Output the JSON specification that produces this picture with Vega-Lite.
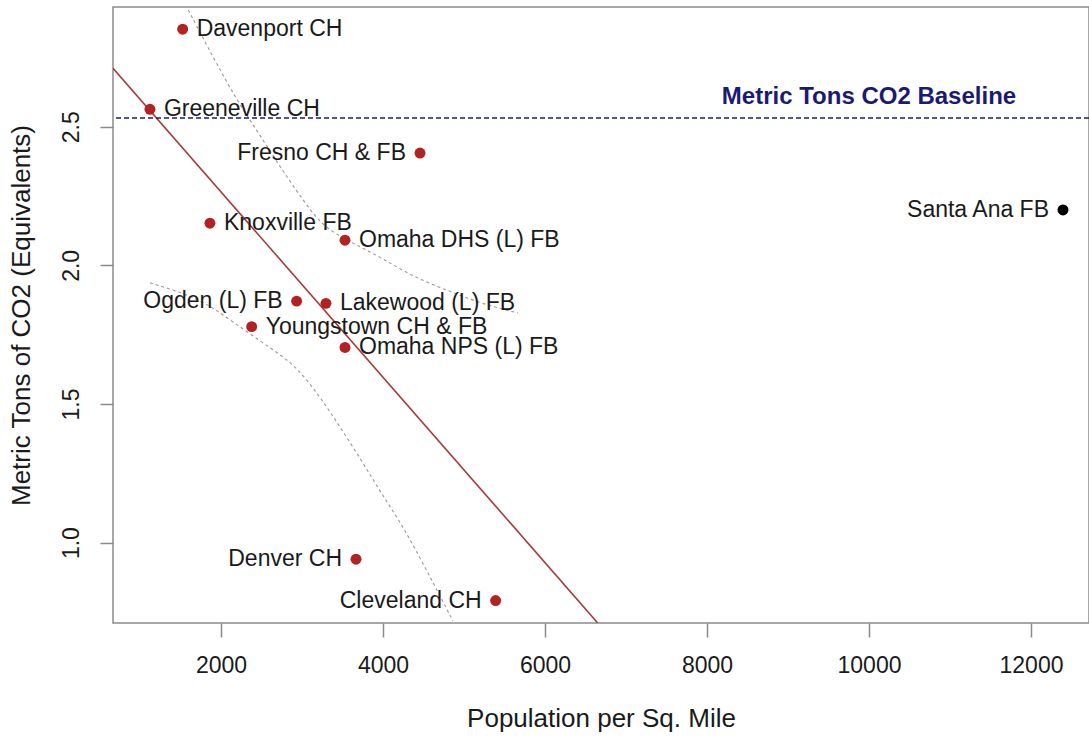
{
  "$schema": "https://vega.github.io/schema/vega-lite/v6.json",
  "width": 976,
  "height": 616,
  "autosize": {"type": "none"},
  "padding": {"left": 113, "top": 7, "right": 0, "bottom": 115},
  "background": "white",
  "config": {
    "view": {"stroke": "#8a8a8a", "strokeWidth": 1.5},
    "font": "Liberation Sans",
    "axis": {"grid": false, "domain": false, "tickColor": "#8a8a8a", "tickWidth": 1.5, "labelFont": "Liberation Sans", "titleFont": "Liberation Sans", "labelColor": "#1a1a1a", "titleColor": "#1a1a1a", "titleFontWeight": "normal"}
  },
  "datasets": {
    "points": [
      {"name": "Davenport CH", "pop": 1527, "co2": 2.852, "fit": "yes"},
      {"name": "Greeneville CH", "pop": 1123, "co2": 2.563, "fit": "yes"},
      {"name": "Fresno CH & FB", "pop": 4457, "co2": 2.405, "fit": "yes"},
      {"name": "Knoxville FB", "pop": 1864, "co2": 2.152, "fit": "yes"},
      {"name": "Omaha DHS (L) FB", "pop": 3531, "co2": 2.091, "fit": "yes"},
      {"name": "Ogden (L) FB", "pop": 2934, "co2": 1.871, "fit": "yes"},
      {"name": "Lakewood (L) FB", "pop": 3296, "co2": 1.863, "fit": "yes"},
      {"name": "Youngstown CH & FB", "pop": 2379, "co2": 1.779, "fit": "yes"},
      {"name": "Omaha NPS (L) FB", "pop": 3531, "co2": 1.704, "fit": "yes"},
      {"name": "Denver CH", "pop": 3667, "co2": 0.94, "fit": "yes"},
      {"name": "Cleveland CH", "pop": 5391, "co2": 0.791, "fit": "yes"},
      {"name": "Santa Ana FB", "pop": 12395, "co2": 2.2, "fit": "no"}
    ],
    "fitline": [
      {"pop": 667, "co2": 2.711},
      {"pop": 6651, "co2": 0.71}
    ],
    "baseline": [
      {"label": "Metric Tons CO2 Baseline", "co2": 2.532, "labelPop": 10000, "labelCo2": 2.607}
    ],
    "bands": [
      {"band": "upper", "pop": 1596, "co2": 2.921},
      {"band": "upper", "pop": 1901, "co2": 2.752},
      {"band": "upper", "pop": 2194, "co2": 2.596},
      {"band": "upper", "pop": 2441, "co2": 2.488},
      {"band": "upper", "pop": 2728, "co2": 2.356},
      {"band": "upper", "pop": 3012, "co2": 2.236},
      {"band": "upper", "pop": 3259, "co2": 2.139},
      {"band": "upper", "pop": 3593, "co2": 2.085},
      {"band": "upper", "pop": 3963, "co2": 2.031},
      {"band": "upper", "pop": 4370, "co2": 1.959},
      {"band": "upper", "pop": 4786, "co2": 1.911},
      {"band": "upper", "pop": 5198, "co2": 1.863},
      {"band": "upper", "pop": 5667, "co2": 1.828},
      {"band": "lower", "pop": 1123, "co2": 1.937},
      {"band": "lower", "pop": 1741, "co2": 1.881},
      {"band": "lower", "pop": 2111, "co2": 1.803},
      {"band": "lower", "pop": 2646, "co2": 1.695},
      {"band": "lower", "pop": 2934, "co2": 1.635},
      {"band": "lower", "pop": 3222, "co2": 1.526},
      {"band": "lower", "pop": 3469, "co2": 1.418},
      {"band": "lower", "pop": 3757, "co2": 1.286},
      {"band": "lower", "pop": 4004, "co2": 1.166},
      {"band": "lower", "pop": 4251, "co2": 1.058},
      {"band": "lower", "pop": 4617, "co2": 0.857},
      {"band": "lower", "pop": 4864, "co2": 0.717}
    ]
  },
  "layer": [
    {
      "data": {"name": "bands"},
      "mark": {"type": "line", "color": "#a09494", "strokeWidth": 1.1, "strokeDash": [3, 3], "clip": true, "interpolate": "basis"},
      "encoding": {
        "x": {"field": "pop", "type": "quantitative", "scale": {"domain": [667, 12716], "nice": false, "zero": false},
          "axis": {"values": [2000, 4000, 6000, 8000, 10000, 12000], "format": "d", "title": "Population per Sq. Mile", "labelFontSize": 23, "titleFontSize": 26, "tickSize": 14, "labelPadding": 17, "titlePadding": 28}},
        "y": {"field": "co2", "type": "quantitative", "scale": {"domain": [0.71, 2.932], "nice": false, "zero": false},
          "axis": {"values": [1.0, 1.5, 2.0, 2.5], "format": ".1f", "title": "Metric Tons of CO2 (Equivalents)", "labelFontSize": 23, "titleFontSize": 26, "tickSize": 13, "labelAngle": -90, "labelAlign": "center", "labelBaseline": "bottom", "labelPadding": 17, "titlePadding": 26}},
        "detail": {"field": "band"}
      }
    },
    {
      "data": {"name": "fitline"},
      "mark": {"type": "line", "color": "#a53a3a", "strokeWidth": 1.6, "clip": true},
      "encoding": {
        "x": {"field": "pop", "type": "quantitative"},
        "y": {"field": "co2", "type": "quantitative"}
      }
    },
    {
      "data": {"name": "baseline"},
      "mark": {"type": "rule", "color": "#1a1a75", "strokeWidth": 1.5, "strokeDash": [5, 3]},
      "encoding": {"y": {"field": "co2", "type": "quantitative"}}
    },
    {
      "data": {"name": "baseline"},
      "mark": {"type": "text", "font": "Liberation Sans", "fontWeight": "bold", "fontSize": 24, "color": "#1a1a75", "align": "center", "baseline": "middle"},
      "encoding": {"x": {"field": "labelPop", "type": "quantitative"}, "y": {"field": "labelCo2", "type": "quantitative"}, "text": {"field": "label"}}
    },
    {
      "data": {"name": "points"},
      "mark": {"type": "point", "filled": true, "size": 120, "opacity": 1},
      "encoding": {
        "x": {"field": "pop", "type": "quantitative"},
        "y": {"field": "co2", "type": "quantitative"},
        "color": {"field": "fit", "type": "nominal", "scale": {"domain": ["yes", "no"], "range": ["#b22222", "#000000"]}, "legend": null}
      }
    },
    {
      "data": {"name": "points"},
      "transform": [{"filter": {"field": "name", "oneOf": ["Davenport CH", "Greeneville CH", "Knoxville FB", "Omaha DHS (L) FB", "Lakewood (L) FB", "Youngstown CH & FB", "Omaha NPS (L) FB"]}}],
      "mark": {"type": "text", "align": "left", "baseline": "middle", "dx": 14, "fontSize": 23, "color": "#1a1a1a", "font": "Liberation Sans"},
      "encoding": {
        "x": {"field": "pop", "type": "quantitative"},
        "y": {"field": "co2", "type": "quantitative"},
        "text": {"field": "name"}
      }
    },
    {
      "data": {"name": "points"},
      "transform": [{"filter": {"field": "name", "oneOf": ["Fresno CH & FB", "Ogden (L) FB", "Denver CH", "Cleveland CH", "Santa Ana FB"]}}],
      "mark": {"type": "text", "align": "right", "baseline": "middle", "dx": -14, "fontSize": 23, "color": "#1a1a1a", "font": "Liberation Sans"},
      "encoding": {
        "x": {"field": "pop", "type": "quantitative"},
        "y": {"field": "co2", "type": "quantitative"},
        "text": {"field": "name"}
      }
    }
  ]
}
